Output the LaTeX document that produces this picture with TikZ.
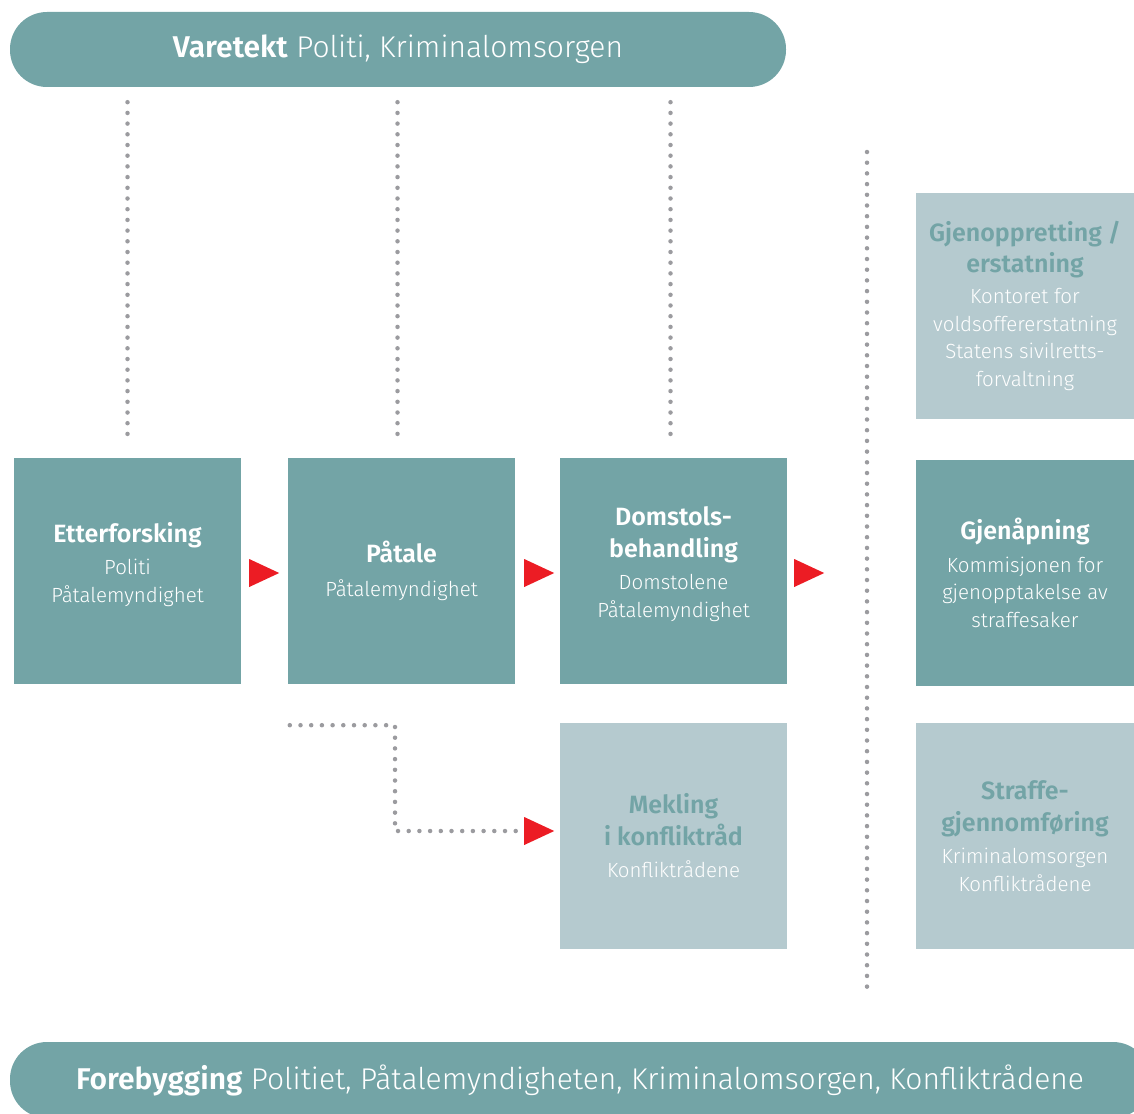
\documentclass[tikz,border=0pt]{standalone}
\usepackage{fontspec}
\IfFontExistsTF{Fira Sans Light}
  {\IfFontExistsTF{Fira Sans SemiBold}
    {\setmainfont{Fira Sans Light}[BoldFont={Fira Sans SemiBold}]}
    {\setmainfont{Fira Sans Light}[BoldFont={Fira Sans}]}}
  {\setmainfont{Fira Sans}}
\usepackage{tikz}
\usetikzlibrary{positioning,shapes.geometric}
\definecolor{tealdark}{HTML}{73A4A6}
\definecolor{teallight}{HTML}{B5CACF}
\definecolor{dotgray}{HTML}{9B9B9F}
\definecolor{tipred}{HTML}{EC1C24}
\newcommand\boxhead{\fontsize{25}{30}\selectfont\bfseries}
\newcommand\boxsub{\fontsize{20.5}{27.5}\selectfont}
\newcommand\bannerfont{\fontsize{30}{36}\selectfont}
\tikzset{%
  every box/.style={
    rectangle,
    inner sep=0pt,
    minimum width=227,
    minimum height=226,
    align=center,
    text=white,
    font=\boxsub
  },
  box dark/.style={fill=tealdark},
  box light/.style={fill=teallight},
  box narrow/.style={minimum width=218},
  banner/.style={
    rectangle,
    fill=tealdark,
    rounded corners=37,
    minimum height=75,
    text=white,
    font=\bannerfont
  },
  redtip/.style={
    isosceles triangle,
    isosceles triangle stretches,
    anchor=west,
    fill=tipred,
    inner sep=0pt,
    minimum width=28,
    minimum height=30
  },
  dotline/.style={
    draw=dotgray,
    line width=4.5,
    line cap=round,
    dash pattern=on 0pt off 10.7pt
  },
}

\begin{document}
\begin{tikzpicture}[x=1pt, y=-1pt]
\useasboundingbox (0,0) rectangle (1134,1113);

% banners
\node [banner, minimum width=776] (varetekt) at (398,49.5)
  {\textbf{Varetekt} Politi, Kriminalomsorgen};
\node [banner, minimum width=1140, minimum height=76] (forebygging) at (580,1080)
  {\textbf{Forebygging} Politiet, Påtalemyndigheten, Kriminalomsorgen, Konfliktrådene};

% process boxes
\node [every box, box dark] (etter) at (127.5,571)
  {{\boxhead Etterforsking}\\[5pt] Politi\\ Påtalemyndighet\\[-9.5pt]};
\node [every box, box dark] (paatale) at (401.5,571)
  {{\boxhead Påtale}\\[6pt] Påtalemyndighet};
\node [every box, box dark] (domstol) at (673.5,571)
  {{\boxhead Domstols-}\\[4pt] {\boxhead behandling}\\[5pt] Domstolene\\ Påtalemyndighet\\[-9.5pt]};
\node [every box, box light] (mekling) at (673.5,836)
  {{\boxhead\color{tealdark} Mekling}\\[4pt] {\boxhead\color{tealdark} i konfliktråd}\\[5pt] Konfliktrådene};

% right column
\node [every box, box light, box narrow] (gjenoppr) at (1025,306)
  {{\boxhead\color{tealdark} Gjenoppretting /}\\[3pt] {\boxhead\color{tealdark} erstatning}\\[4pt]
   Kontoret for\\ voldsoffererstatning\\ Statens sivilretts-\\ forvaltning};
\node [every box, box dark, box narrow] (gjenaapning) at (1025,573)
  {{\boxhead Gjenåpning}\\[5pt] Kommisjonen for\\ gjenopptakelse av\\ straffesaker};
\node [every box, box light, box narrow] (straffe) at (1025,836)
  {{\boxhead\color{tealdark} Straffe-}\\[4pt] {\boxhead\color{tealdark} gjennomføring}\\[5pt] Kriminalomsorgen\\ Konfliktrådene};

% red tips
\node [redtip] (tip1) at (249,573) {};
\node [redtip] (tip2) at (524,573) {};
\node [redtip] (tip3) at (794,573) {};
\node [redtip] (tip4) at (524,831) {};

% dotted links
\foreach \n/\dx in {etter/0,paatale/-4,domstol/-3}
  \draw [dotline] ([xshift=\dx,yshift=-15]varetekt.south -| \n.north) -- ([xshift=\dx,yshift=18]\n.north);

\draw [dotline] ([xshift=2,yshift=-41]paatale.south west)
  -| ([xshift=-129]tip4.west) -- ([xshift=-4]tip4.west);

\draw [dotline] (867,152) -- (867,992);

\end{tikzpicture}
\end{document}
